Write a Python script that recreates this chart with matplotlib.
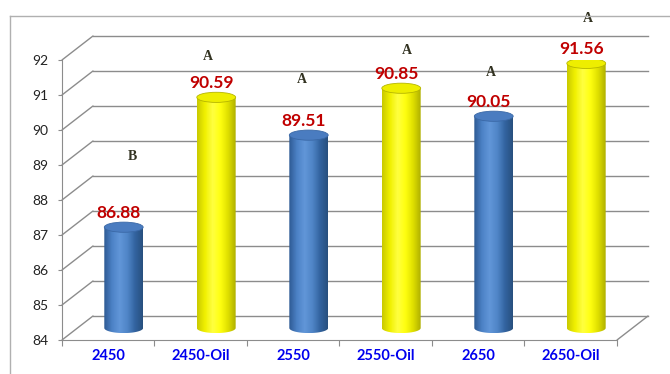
import numpy as np
import matplotlib
matplotlib.use('Agg')
import matplotlib.pyplot as plt
import matplotlib.transforms as mtransforms
from matplotlib.patches import Polygon, Ellipse, ConnectionPatch
from matplotlib.colors import LinearSegmentedColormap
from matplotlib.lines import Line2D

categories = ['2450', '2450-Oil', '2550', '2550-Oil', '2650', '2650-Oil']
values = [86.88, 90.59, 89.51, 90.85, 90.05, 91.56]
groups = ['B', 'A', 'A', 'A', 'A', 'A']
group_y = [88.89, 91.77, 91.09, 91.94, 91.31, 92.83]
group_dx = [9, -8, -7, 6, -3, 2]
yticks = [84, 85, 86, 87, 88, 89, 90, 91, 92]

grid_c = '#8c8c8c'
blue_cm = LinearSegmentedColormap.from_list(
    'b', ['#2e5a94', '#4c82c6', '#6196d8', '#5086c8', '#3364a0', '#28507f'])
yel_cm = LinearSegmentedColormap.from_list(
    'y', ['#caca00', '#f0f000', '#ffff40', '#ffff10', '#e0e000', '#b0b000'])

fig = plt.figure(figsize=(6.7, 3.74), dpi=100)
ax = fig.add_axes([0.0925, 0.0909, 0.8284, 0.7487])
ax.set_xlim(-0.5, 5.5)
ax.set_ylim(84, 92)

# fake 3d: back wall and bar centre are shifted up/right
back = ax.transData + mtransforms.ScaledTranslation(0.31, 0.24, fig.dpi_scale_trans)
mid = ax.transData + mtransforms.ScaledTranslation(0.155, 0.12, fig.dpi_scale_trans)

for v in yticks:
    ax.plot([-0.5, 5.5], [v, v], transform=back, color=grid_c, lw=1, clip_on=False, zorder=1)
    ax.add_artist(ConnectionPatch((-0.5, v), (-0.5, v), coordsA=ax.transData, coordsB=back,
                                  color=grid_c, lw=1, zorder=1))
ax.add_artist(ConnectionPatch((5.5, 84), (5.5, 84), coordsA=ax.transData, coordsB=back,
                              color=grid_c, lw=1, zorder=1))

w = 0.42   # bar width in category units
h = 0.29   # ellipse height in value units
theta = np.linspace(np.pi, 2 * np.pi, 50)
for i, v in enumerate(values):
    cm = blue_cm if i % 2 == 0 else yel_cm
    arc = np.column_stack([i + w / 2 * np.cos(theta), 84 + h / 2 * np.sin(theta)])
    pts = np.vstack([[i - w / 2, v], arc, [i + w / 2, v]])
    body = Polygon(pts, closed=True, transform=mid, fc='none', ec='none', zorder=3)
    ax.add_patch(body)
    grad = np.linspace(0, 1, 64).reshape(1, -1)
    im = ax.imshow(grad, cmap=cm, extent=[i - w / 2, i + w / 2, 84 - h / 2, v],
                   transform=mid, aspect='auto', zorder=3, interpolation='bilinear')
    im.set_clip_path(body)
    if i % 2 == 0:
        top_fc, top_ec = '#4a7cc0', '#3a68a6'
    else:
        top_fc, top_ec = '#eeee00', '#b5b500'
    ax.add_patch(Ellipse((i, v), w, h, transform=mid, fc=top_fc, ec=top_ec, lw=0.6, zorder=4))
    ax.annotate(f'{v:.2f}', xy=(i, v), xycoords=mid, xytext=(-5, 14), textcoords='offset pixels',
                ha='center', va='center', color='#c00000', fontsize=12.5, fontweight='bold',
                family=['Lato', 'DejaVu Sans'], zorder=5)
    ax.annotate(groups[i], xy=(i, group_y[i]), xycoords=mid, xytext=(group_dx[i], 0),
                textcoords='offset pixels', ha='center', va='center', color='#333322',
                fontsize=10, fontweight='bold', family=['Liberation Serif', 'DejaVu Serif'])

ax.set_xlim(-0.5, 5.5)
ax.set_ylim(84, 92)

ax.set_xticks(np.arange(-0.5, 6, 1))
ax.set_xticklabels([])
ax.set_xticks(range(6), minor=True)
ax.set_xticklabels(categories, minor=True, color='#0000ee', fontweight='bold',
                   fontsize=10.5, family=['Lato', 'DejaVu Sans'])
ax.tick_params(axis='x', which='major', length=4, color=grid_c)
ax.tick_params(axis='x', which='minor', length=0, pad=6.5)
ax.set_yticks(yticks)
ax.set_yticklabels([str(t) for t in yticks], fontsize=10, family=['Lato', 'DejaVu Sans'],
                   color='#222222')
ax.tick_params(axis='y', length=3, pad=7, color=grid_c)

for s in ['top', 'right']:
    ax.spines[s].set_visible(False)
for s in ['left', 'bottom']:
    ax.spines[s].set_color(grid_c)
ax.patch.set_visible(False)

# outer chart frame (cropped in the original)
fig.add_artist(Line2D([10 / 670, 10 / 670], [0, 1 - 16 / 374], transform=fig.transFigure,
                      color='#b0b0b0', lw=1))
fig.add_artist(Line2D([10 / 670, 1], [1 - 16 / 374, 1 - 16 / 374], transform=fig.transFigure,
                      color='#b0b0b0', lw=1))

fig.savefig('out.png', dpi=100)
